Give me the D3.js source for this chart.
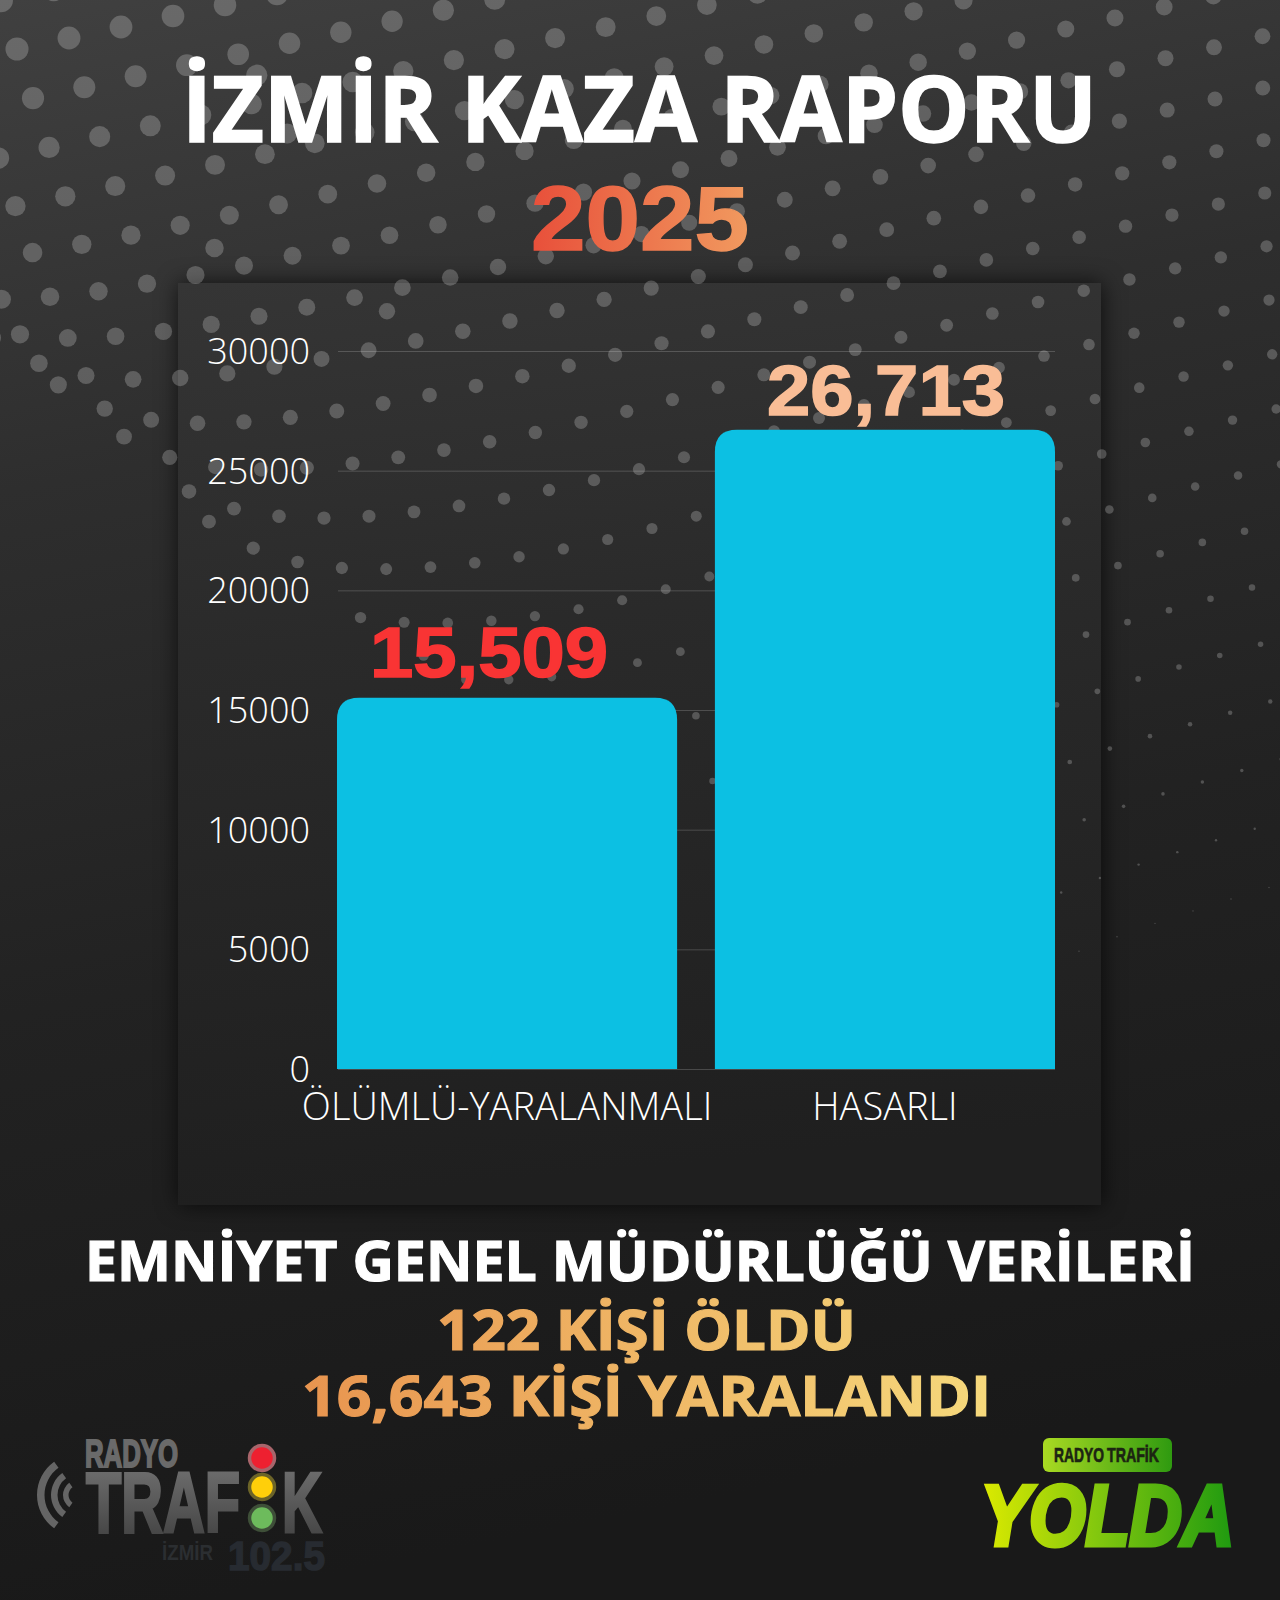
<!DOCTYPE html>
<html>
<head>
<meta charset="utf-8">
<script src="https://cdn.jsdelivr.net/npm/d3@7"></script>
<style>
  html, body { margin: 0; padding: 0; background: #1a1a1a; }
  svg { display: block; }
  text { font-family: "Open Sans", sans-serif; }
</style>
</head>
<body>
<div id="chart"></div>
<script>
var categories = ["ÖLÜMLÜ-YARALANMALI", "HASARLI"]
var values = [15509, 26713]
var valueLabels = ["15,509", "26,713"]
var valueColors = ["#f93434", "#f9bd96"]
var yTicks = [0, 5000, 10000, 15000, 20000, 25000, 30000]

var W = 1280, H = 1600
var svg = d3.select("#chart").append("svg").attr("width", W).attr("height", H)
var defs = svg.append("defs")

function gradient(id, stops, x1, y1, x2, y2, user){
  var g = defs.append("linearGradient").attr("id", id)
    .attr("x1", x1).attr("y1", y1).attr("x2", x2).attr("y2", y2)
  if(user) g.attr("gradientUnits", "userSpaceOnUse")
  stops.forEach(function(s){
    g.append("stop").attr("offset", s[0]).attr("stop-color", s[1])
  })
}
gradient("bg", [[0, "#404040"], [0.3, "#2e2e2e"], [0.62, "#222222"], [1, "#191919"]], 0, 0, 0.16, 1)
gradient("panel", [[0, "#353535"], [0.4, "#2a2a2a"], [1, "#1f1f1f"]], 0, 0, 0.1, 1)
gradient("year", [[0, "#e84f3a"], [1, "#f19a5f"]], 530, 0, 750, 0, true)
gradient("gold", [[0, "#e8944f"], [1, "#f6d97c"]], 300, 0, 990, 0, true)
gradient("trafik", [[0, "#6c6c6c"], [1, "#464646"]], 0, 1470, 0, 1535, true)
gradient("pill", [[0, "#a9da22"], [1, "#2f9a10"]], 0, 0, 1, 0)
gradient("yolda", [[0, "#dcea00"], [0.45, "#84c80e"], [1, "#1f9a10"]], 982, 0, 1233, 0, true)

svg.append("rect").attr("width", W).attr("height", H).attr("fill", "url(#bg)")

// chart panel, sits under the dot texture
svg.append("rect")
  .attr("x", 178).attr("y", 283).attr("width", 923).attr("height", 922)
  .attr("fill", "url(#panel)")
  .style("filter", "drop-shadow(1px 0px 11px rgba(0,0,0,0.7))")

// background texture only, not chart data: bent dot lattice fading to the lower right
function dotPos(i, j){
  var k = Math.pow(Math.min(Math.max(j, 0) / 11.5, 1.3), 3)
  var x = 17 + 52 * i + 16 * j - 0.7 * i * j + 0.012 * j * j * j
  var y = 49 - 11 * i + 49 * j + 0.25 * j * j
    + k * (-113 * Math.exp(-i / 2.2) + 25 * Math.exp(-Math.pow((i - 9) / 6, 2)))
  return [x, y]
}
var dots = []
d3.range(36, -9, -1).forEach(function(i){
  d3.range(-5, 26).forEach(function(j){
    var p = dotPos(i, j)
    var r = 12 - 0.003 * p[0] - 0.0085 * p[1]
    var edge = 370 + 0.8 * p[0] - 0.00023 * p[0] * p[0]
    if(p[0] < -15 || p[0] > W + 15 || p[1] < -15 || p[1] > edge || r < 0.5) return
    var clash = dots.some(function(d){
      return Math.hypot(d.x - p[0], d.y - p[1]) < 28
    })
    if(!clash) dots.push({x: p[0], y: p[1], r: r})
  })
})
svg.append("g").selectAll("circle").data(dots).enter().append("circle")
  .attr("cx", function(d){ return d.x })
  .attr("cy", function(d){ return d.y })
  .attr("r", function(d){ return d.r })
  .attr("fill", "#fff").attr("fill-opacity", 0.22)

// headings
function heading(str, x1, x2, base, size, fill, sw){
  return svg.append("text")
    .attr("x", x1).attr("y", base)
    .attr("textLength", x2 - x1).attr("lengthAdjust", "spacingAndGlyphs")
    .attr("font-size", size).attr("font-weight", 700)
    .attr("fill", fill).attr("stroke", fill).attr("stroke-width", sw)
    .text(str)
}
heading("İZMİR KAZA RAPORU", 182, 1097, 142, 91, "#fff", 1.6)
heading("2025", 531, 749, 250, 90, "url(#year)", 1.4)
  .style("font-family", '"Liberation Sans", sans-serif')
heading("EMNİYET GENEL MÜDÜRLÜĞÜ VERİLERİ", 85, 1195, 1281, 55, "#fff", 1.2)
heading("122 KİŞİ ÖLDÜ", 437, 856, 1350, 55, "url(#gold)", 1.2)
heading("16,643 KİŞİ YARALANDI", 302, 991, 1416, 55, "url(#gold)", 1.2)

// chart
var x = d3.scaleBand().domain(categories).range([337, 1055]).paddingInner(0.1)
var y = d3.scaleLinear().domain([0, 30000]).range([1069, 351])

var yAxis = svg.append("g").attr("transform", "translate(338,0)")
  .call(d3.axisLeft(y).tickValues(yTicks).tickSize(-717).tickPadding(28).tickFormat(d3.format("d")))
yAxis.select(".domain").remove()
yAxis.selectAll(".tick line").attr("stroke", "#fff").attr("stroke-opacity", 0.18)
yAxis.selectAll(".tick text")
  .attr("fill", "#fff").attr("font-size", 36).attr("font-weight", 300).attr("dy", "0.35em")
  .style("font-family", '"Open Sans", sans-serif')

var xAxis = svg.append("g").attr("transform", "translate(0,1069)")
  .call(d3.axisBottom(x).tickSize(0).tickPadding(24))
xAxis.select(".domain").remove()
xAxis.selectAll(".tick text")
  .attr("fill", "#fff").attr("font-size", 38).attr("font-weight", 300)
  .style("font-family", '"Open Sans", sans-serif')

function barPath(cat, val){
  var x0 = x(cat), x1 = x0 + x.bandwidth(), y0 = y(0), y1 = y(val), r = 22
  var p = d3.path()
  p.moveTo(x0, y0)
  p.lineTo(x0, y1 + r)
  p.quadraticCurveTo(x0, y1, x0 + r, y1)
  p.lineTo(x1 - r, y1)
  p.quadraticCurveTo(x1, y1, x1, y1 + r)
  p.lineTo(x1, y0)
  p.closePath()
  return p.toString()
}
svg.append("g").selectAll("path").data(categories).enter().append("path")
  .attr("d", function(c, i){ return barPath(c, values[i]) })
  .attr("fill", "#0cc0e3")

svg.append("g").selectAll("text").data(categories).enter().append("text")
  .attr("x", function(c, i){ return x(c) + x.bandwidth() / 2 + (i == 0 ? -18 : 1) })
  .attr("y", function(c, i){ return y(values[i]) - (i == 0 ? 21 : 15) })
  .attr("text-anchor", "middle")
  .attr("textLength", 238).attr("lengthAdjust", "spacingAndGlyphs")
  .attr("font-size", 71).attr("font-weight", 700)
  .style("font-family", '"Liberation Sans", sans-serif')
  .attr("fill", function(c, i){ return valueColors[i] })
  .attr("stroke", function(c, i){ return valueColors[i] })
  .attr("stroke-width", 1.6)
  .text(function(c, i){ return valueLabels[i] })

// radyo trafik logo
var logo = svg.append("g")
var arc = d3.arc()
;[[41, 7.5, 0.95], [27, 6.5, 0.95], [15, 5.5, 0.95]].forEach(function(a){
  logo.append("path")
    .attr("transform", "translate(78,1495)")
    .attr("d", arc({innerRadius: a[0] - a[1], outerRadius: a[0],
      startAngle: -Math.PI / 2 - a[2], endAngle: -Math.PI / 2 + a[2]}))
    .attr("fill", "#656565")
})
function logoText(g, str, x1, x2, base, size, fill, sw){
  return g.append("text").attr("x", x1).attr("y", base)
    .attr("textLength", x2 - x1).attr("lengthAdjust", "spacingAndGlyphs")
    .attr("font-size", size).attr("font-weight", 700)
    .style("font-family", '"Liberation Sans", sans-serif')
    .attr("fill", fill).attr("stroke", fill).attr("stroke-width", sw)
    .text(str)
}
logoText(logo, "RADYO", 85, 178, 1467, 38, "#6a6a6a", 2)
logoText(logo, "TRAF", 86, 240, 1532, 85, "url(#trafik)", 3)
logoText(logo, "K", 282, 322, 1532, 85, "url(#trafik)", 3)
logoText(logo, "İZMİR", 162, 213, 1560, 22, "#2b2e31", 0)
logoText(logo, "102.5", 228, 325, 1570, 41, "#272b31", 1.5)
;[["#ee2030", "#a8656b", 1458], ["#ffcf0a", "#6c6428", 1487], ["#6dbb5c", "#3e4f38", 1518]].forEach(function(l){
  logo.append("circle").attr("cx", 262).attr("cy", l[2]).attr("r", 12.5)
    .attr("fill", l[0]).attr("stroke", l[1]).attr("stroke-width", 3.5)
})

// yolda logo
var logo2 = svg.append("g")
logo2.append("rect").attr("x", 1043).attr("y", 1438).attr("width", 129).attr("height", 34)
  .attr("rx", 6).attr("fill", "url(#pill)")
logoText(logo2, "RADYO", 1054, 1104, 1462, 21, "#1c2412", 0.7)
logoText(logo2, "TRAFİK", 1107, 1159, 1462, 21, "#1c2412", 0.7)
logoText(logo2, "YOLDA", 981, 1234, 1545, 85, "url(#yolda)", 5)
  .attr("font-style", "italic")
</script>
</body>
</html>
